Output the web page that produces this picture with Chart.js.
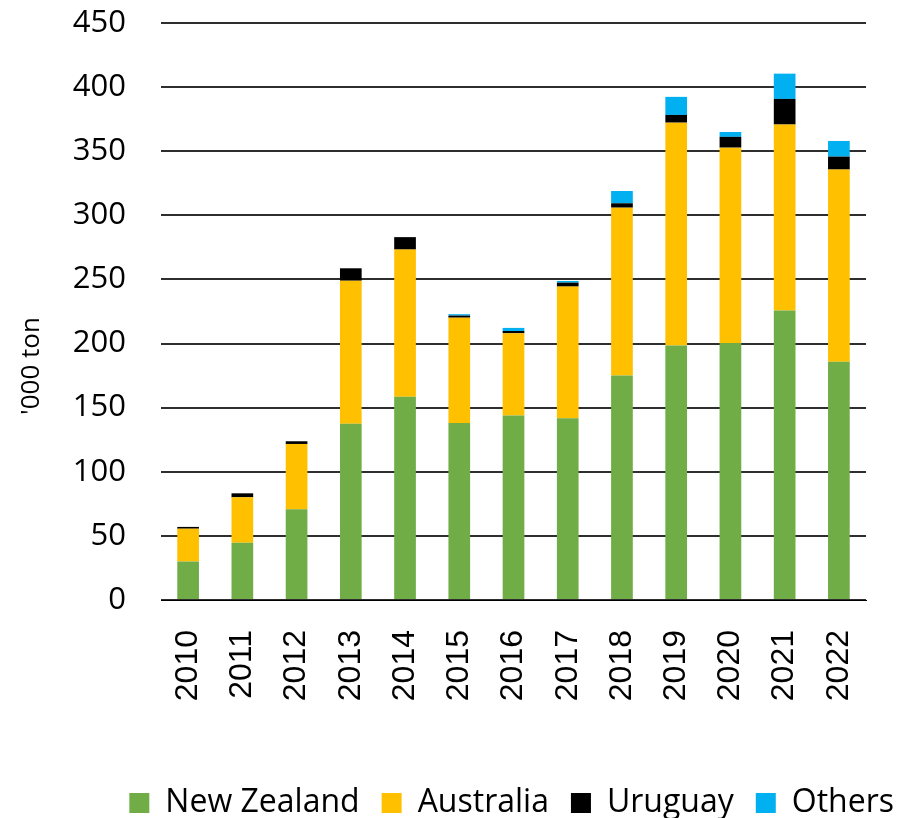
<!DOCTYPE html>
<html>
<head>
<meta charset="utf-8">
<script src="https://cdn.jsdelivr.net/npm/chart.js@4/dist/chart.umd.min.js"></script>
<style>
  html, body { margin: 0; padding: 0; background: #ffffff; }
  #wrap { width: 916px; height: 818px; position: relative; }
</style>
</head>
<body>
<div id="wrap"><canvas id="c" width="916" height="818"></canvas></div>
<script>
const categories = ['2010','2011','2012','2013','2014','2015','2016','2017','2018','2019','2020','2021','2022'];
const newZealand = [30, 44.7, 70.7, 137.5, 158.6, 138, 143.8, 141.7, 175, 198.4, 200.5, 225.7, 185.9];
const australia  = [25.6, 35.4, 51, 111.5, 114.7, 82.2, 64.2, 102.7, 131, 173.9, 152.3, 145.1, 149.8];
const uruguay    = [1.4, 3.1, 2.1, 9.7, 9.7, 1.6, 1.8, 3.1, 3.4, 6, 8.4, 20, 10.1];
const others     = [0, 0, 0, 0, 0, 1.1, 2.4, 1.3, 9.6, 14.1, 3.8, 19.7, 12.2];
const yTicks = [0, 50, 100, 150, 200, 250, 300, 350, 400, 450];
const yTitle = "'000 ton";

const yTitlePlugin = {
  id: 'yTitlePlugin',
  afterDraw(chart) {
    const ctx = chart.ctx;
    ctx.save();
    ctx.translate(32, 366);
    ctx.rotate(-Math.PI / 2);
    ctx.font = '26px "Open Sans"';
    ctx.fillStyle = '#000';
    ctx.textAlign = 'center';
    ctx.textBaseline = 'middle';
    ctx.fillText(yTitle, 0, 0);
    ctx.restore();
  }
};

new Chart(document.getElementById('c'), {
  type: 'bar',
  data: {
    labels: categories,
    datasets: [
      { label: 'New Zealand', data: newZealand, backgroundColor: '#70AD47' },
      { label: 'Australia', data: australia, backgroundColor: '#FFC000' },
      { label: 'Uruguay', data: uruguay, backgroundColor: '#000000' },
      { label: 'Others', data: others, backgroundColor: '#00B0F0' }
    ]
  },
  options: {
    responsive: false,
    animation: false,
    devicePixelRatio: 1,
    layout: { padding: { top: 23, right: 0, bottom: -11, left: 0 } },
    datasets: { bar: { categoryPercentage: 1, barPercentage: 0.4 } },
    plugins: {
      tooltip: { enabled: false },
      legend: {
        position: 'bottom',
        align: 'end',
        labels: {
          boxWidth: 20, boxHeight: 20, padding: 22,
          color: '#000',
          font: { family: '"Open Sans"', size: 32 }
        }
      }
    },
    scales: {
      x: {
        stacked: true,
        grid: { display: false },
        border: { display: true, color: '#000', width: 1 },
        ticks: {
          color: '#000', padding: 22, minRotation: 90, maxRotation: 90, autoSkip: false,
          font: { family: '"Liberation Sans"', size: 32 }
        },
        afterFit(s) { s.height = 165; s.paddingLeft = 0; s.paddingRight = 0; }
      },
      y: {
        stacked: true,
        min: 0, max: 450,
        afterBuildTicks(s) { s.ticks = yTicks.map(v => ({ value: v })); },
        afterFit(s) { s.width = 161; s.paddingTop = 0; s.paddingBottom = 0; },
        grid: { color: '#2e2e2e', lineWidth: 2, drawTicks: false },
        border: { display: false },
        ticks: {
          color: '#000', padding: 35,
          font: { family: '"Open Sans"', size: 31 }
        }
      },
      yR: {
        position: 'right',
        display: true,
        grid: { display: false },
        border: { display: false },
        ticks: { display: false },
        afterFit(s) { s.width = 50; s.paddingTop = 0; s.paddingBottom = 0; }
      }
    }
  },
  plugins: [yTitlePlugin]
});
</script>
</body>
</html>
